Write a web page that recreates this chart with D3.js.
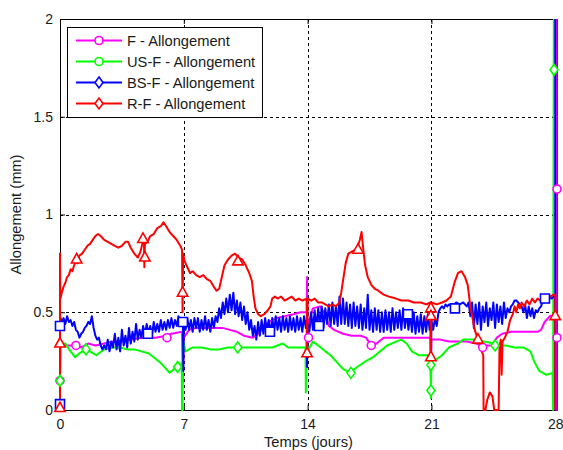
<!DOCTYPE html>
<html><head><meta charset="utf-8">
<script src="https://cdn.jsdelivr.net/npm/d3@7"></script>
<style>body{margin:0;background:#fff;} svg{display:block;font-family:"Liberation Sans",Arial,sans-serif;}</style>
</head><body><svg id="c" width="563" height="450"></svg>
<script>
const seriesNames = ["F - Allongement","US-F - Allongement","BS-F - Allongement","R-F - Allongement"];
const seriesColors = ["#ff00ff","#00ff00","#0000ff","#ff0000"];
const plotMarkers = ["circle","diamond","square","triangle"];
const legendMarkers = ["circle","circle","diamond","diamond"];
const xTicks = [0,7,14,21,28];
const yTicks = [0,0.5,1,1.5,2];
const yTickLabels = ["0","0.5","1","1.5","2"];
const xLabel = "Temps (jours)";
const yLabel = "Allongement (mm)";

// [day, mm]
const fData = [[0,0],[0,0.15],[0.03,0.33],[0.3,0.33],[0.6,0.33],[0.9,0.33],[1.2,0.32],[1.6,0.34],[2.0,0.33],[2.5,0.34],[3.0,0.35],[3.5,0.35],[4.0,0.36],[4.6,0.37],[5.0,0.37],[5.4,0.37],[6.0,0.38],[6.3,0.39],[6.9,0.40],[6.95,0.14],[7.0,0.37],[7.3,0.41],[7.7,0.42],[8.2,0.42],[8.7,0.42],[9.2,0.42],[9.6,0.41],[10.0,0.40],[10.4,0.38],[10.9,0.37],[11.2,0.39],[11.5,0.42],[11.8,0.45],[12.2,0.47],[12.7,0.48],[13.2,0.49],[13.6,0.50],[13.95,0.50],[13.97,0.68],[13.99,0.37],[14.1,0.46],[14.3,0.52],[14.7,0.53],[15.0,0.49],[15.2,0.43],[15.5,0.41],[16.0,0.39],[16.5,0.38],[17.0,0.38],[17.3,0.37],[17.6,0.33],[17.9,0.34],[18.3,0.37],[19.0,0.37],[19.5,0.37],[20.0,0.37],[20.5,0.37],[20.95,0.37],[20.97,0.17],[21.0,0.36],[21.5,0.36],[22.0,0.35],[22.5,0.35],[23.0,0.35],[23.5,0.34],[24.0,0.33],[24.4,0.33],[24.7,0.37],[25.0,0.39],[25.5,0.40],[26.0,0.40],[26.5,0.40],[27.0,0.40],[27.2,0.41],[27.4,0.45],[27.7,0.48],[28.05,0.49],[28.08,0],[28.08,2]];
const fMarks = [[0,0.15],[0.9,0.33],[6.05,0.37],[14.05,0.37],[17.6,0.33],[23.9,0.32],[28.1,0.37],[28.1,1.13]];

const usData = [[0,0],[0,0.15],[0.02,0.34],[0.3,0.34],[0.6,0.30],[0.85,0.27],[1.1,0.29],[1.45,0.31],[1.7,0.30],[2.05,0.28],[2.5,0.31],[3.0,0.32],[3.4,0.32],[3.8,0.31],[4.2,0.31],[4.6,0.30],[5.0,0.29],[5.3,0.27],[5.7,0.24],[6.0,0.21],[6.2,0.19],[6.45,0.21],[6.7,0.22],[6.88,0.24],[6.9,0],[6.93,0],[6.95,0.36],[7.1,0.30],[7.5,0.32],[8.0,0.32],[8.5,0.31],[9.0,0.31],[9.5,0.32],[10.0,0.32],[10.5,0.32],[11.0,0.32],[11.5,0.32],[12.0,0.32],[12.3,0.33],[12.6,0.34],[12.9,0.32],[13.3,0.32],[13.88,0.32],[13.9,0.09],[13.93,0.35],[14.05,0.31],[14.3,0.35],[14.6,0.33],[15.0,0.30],[15.3,0.28],[15.7,0.24],[16.0,0.21],[16.4,0.19],[16.8,0.22],[17.3,0.25],[17.7,0.27],[18.1,0.30],[18.5,0.33],[19.0,0.35],[19.3,0.36],[19.6,0.34],[19.9,0.30],[20.3,0.28],[20.8,0.28],[20.95,0.26],[20.97,0.06],[21.0,0.25],[21.3,0.26],[21.6,0.28],[22.0,0.32],[22.5,0.34],[22.8,0.36],[23.5,0.36],[24.0,0.35],[24.5,0.34],[24.8,0.33],[25.2,0.33],[25.7,0.32],[26.2,0.32],[26.6,0.30],[26.8,0.25],[27.1,0.20],[27.5,0.18],[27.85,0.19],[27.88,0],[27.92,2]];
const usMarks = [[0,0.15],[1.47,0.31],[6.65,0.22],[10.05,0.32],[16.45,0.19],[20.97,0.23],[20.97,0.10],[24.6,0.33],[27.93,1.74]];

const bsData = [[0,0],[0,0.48],[0.1,0.45],[0.2,0.47],[0.3,0.44],[0.4,0.48],[0.5,0.45],[0.6,0.46],[0.7,0.43],[0.8,0.45],[0.9,0.41],[1.0,0.40],[1.1,0.37],[1.2,0.39],[1.3,0.40],[1.4,0.42],[1.5,0.43],[1.6,0.45],[1.7,0.44],[1.8,0.48],[1.9,0.42],[2.0,0.38],[2.1,0.36],[2.2,0.37],[2.3,0.33],[2.4,0.31],[2.5,0.33],[2.6,0.31],[2.7,0.36],[2.8,0.30],[2.9,0.35],[3.0,0.32],[3.1,0.39],[3.2,0.31],[3.3,0.37],[3.4,0.30],[3.5,0.41],[3.6,0.33],[3.7,0.38],[3.8,0.32],[3.9,0.42],[4.0,0.34],[4.1,0.40],[4.2,0.35],[4.3,0.44],[4.4,0.36],[4.5,0.41],[4.6,0.37],[4.7,0.43],[4.8,0.38],[4.9,0.44],[5.0,0.39],[5.1,0.43],[5.2,0.38],[5.3,0.45],[5.4,0.40],[5.5,0.44],[5.6,0.40],[5.7,0.46],[5.8,0.41],[5.9,0.45],[6.0,0.41],[6.1,0.46],[6.2,0.42],[6.3,0.47],[6.4,0.42],[6.5,0.46],[6.6,0.43],[6.7,0.48],[6.8,0.43],[6.9,0.47],[6.95,0.45],[6.97,0.20],[7.0,0.44],[7.1,0.41],[7.2,0.47],[7.3,0.41],[7.4,0.46],[7.5,0.40],[7.6,0.47],[7.7,0.42],[7.8,0.47],[7.9,0.40],[8.0,0.46],[8.1,0.41],[8.2,0.48],[8.3,0.41],[8.4,0.46],[8.5,0.40],[8.6,0.47],[8.7,0.42],[8.8,0.48],[8.9,0.45],[9.0,0.52],[9.1,0.47],[9.2,0.55],[9.3,0.49],[9.4,0.57],[9.5,0.50],[9.6,0.59],[9.7,0.51],[9.8,0.60],[9.9,0.49],[10.0,0.56],[10.1,0.48],[10.2,0.55],[10.3,0.46],[10.4,0.53],[10.5,0.44],[10.6,0.50],[10.7,0.41],[10.8,0.46],[10.9,0.38],[11.0,0.43],[11.1,0.36],[11.2,0.45],[11.3,0.38],[11.4,0.46],[11.5,0.39],[11.6,0.47],[11.7,0.40],[11.8,0.46],[11.9,0.39],[12.0,0.47],[12.1,0.40],[12.2,0.48],[12.3,0.41],[12.4,0.47],[12.5,0.40],[12.6,0.48],[12.7,0.41],[12.8,0.47],[12.9,0.40],[13.0,0.48],[13.1,0.41],[13.2,0.47],[13.3,0.40],[13.4,0.48],[13.5,0.41],[13.6,0.47],[13.7,0.40],[13.8,0.48],[13.9,0.42],[13.95,0.46],[13.97,0.22],[14.0,0.44],[14.1,0.40],[14.2,0.50],[14.3,0.41],[14.4,0.51],[14.5,0.42],[14.6,0.52],[14.7,0.43],[14.8,0.53],[14.9,0.42],[15.0,0.52],[15.1,0.44],[15.2,0.54],[15.3,0.43],[15.4,0.55],[15.5,0.44],[15.6,0.53],[15.7,0.43],[15.8,0.58],[15.9,0.44],[16.0,0.57],[16.1,0.44],[16.2,0.55],[16.3,0.43],[16.4,0.54],[16.5,0.42],[16.6,0.55],[16.7,0.43],[16.8,0.53],[16.9,0.42],[17.0,0.54],[17.1,0.41],[17.2,0.52],[17.3,0.42],[17.4,0.59],[17.5,0.41],[17.6,0.51],[17.7,0.40],[17.8,0.52],[17.9,0.41],[18.0,0.51],[18.1,0.40],[18.2,0.50],[18.3,0.40],[18.4,0.51],[18.5,0.41],[18.6,0.50],[18.7,0.40],[18.8,0.52],[18.9,0.41],[19.0,0.50],[19.1,0.42],[19.2,0.51],[19.3,0.41],[19.4,0.52],[19.5,0.42],[19.6,0.50],[19.7,0.41],[19.8,0.49],[19.9,0.40],[20.0,0.50],[20.1,0.39],[20.2,0.48],[20.3,0.40],[20.4,0.49],[20.5,0.39],[20.6,0.48],[20.7,0.40],[20.8,0.49],[20.9,0.41],[20.95,0.45],[20.97,0.25],[21.0,0.46],[21.1,0.41],[21.2,0.47],[21.3,0.43],[21.4,0.50],[21.5,0.52],[21.6,0.53],[21.7,0.52],[21.8,0.54],[21.9,0.53],[22.0,0.54],[22.2,0.53],[22.4,0.55],[22.6,0.54],[22.8,0.55],[23.0,0.53],[23.1,0.55],[23.2,0.48],[23.3,0.55],[23.4,0.42],[23.5,0.54],[23.6,0.44],[23.7,0.55],[23.8,0.41],[23.9,0.53],[24.0,0.45],[24.1,0.55],[24.2,0.43],[24.3,0.52],[24.4,0.46],[24.5,0.55],[24.6,0.42],[24.7,0.54],[24.8,0.45],[24.9,0.53],[25.0,0.44],[25.1,0.55],[25.2,0.47],[25.3,0.52],[25.4,0.50],[25.5,0.53],[25.6,0.54],[25.7,0.56],[25.8,0.56],[25.9,0.55],[26.0,0.54],[26.1,0.53],[26.2,0.50],[26.3,0.54],[26.4,0.47],[26.5,0.53],[26.6,0.48],[26.7,0.52],[26.8,0.47],[26.9,0.51],[27.0,0.50],[27.1,0.52],[27.2,0.53],[27.3,0.56],[27.4,0.55],[27.5,0.57],[27.6,0.55],[27.7,0.58],[27.8,0.57],[27.9,0.58],[27.98,0.58],[28.0,0],[28.0,2]];
const bsMarks = [[0,0.43],[0,0.03],[4.97,0.39],[6.95,0.45],[11.87,0.40],[14.64,0.43],[19.67,0.49],[22.33,0.52],[27.42,0.57]];

const rData = [[0,0],[0,0.80],[0.02,0.57],[0.1,0.60],[0.2,0.63],[0.3,0.65],[0.4,0.68],[0.5,0.69],[0.6,0.72],[0.7,0.71],[0.8,0.74],[0.9,0.76],[1.0,0.75],[1.1,0.79],[1.25,0.80],[1.4,0.82],[1.55,0.84],[1.7,0.85],[1.85,0.87],[2.0,0.89],[2.15,0.90],[2.3,0.89],[2.5,0.87],[2.7,0.86],[2.9,0.85],[3.1,0.84],[3.3,0.83],[3.5,0.84],[3.7,0.86],[3.85,0.86],[4.0,0.83],[4.2,0.80],[4.4,0.78],[4.55,0.81],[4.68,0.86],[4.75,0.86],[4.77,0.73],[4.8,0.85],[4.95,0.86],[5.1,0.89],[5.3,0.90],[5.5,0.93],[5.7,0.94],[5.85,0.96],[6.0,0.94],[6.2,0.91],[6.4,0.89],[6.6,0.87],[6.8,0.84],[6.9,0.82],[6.93,0.50],[6.96,0.80],[7.05,0.76],[7.2,0.73],[7.35,0.70],[7.5,0.71],[7.7,0.69],[7.9,0.68],[8.1,0.69],[8.3,0.67],[8.5,0.66],[8.7,0.63],[8.85,0.61],[9.0,0.62],[9.15,0.68],[9.3,0.74],[9.5,0.77],[9.7,0.79],[9.9,0.80],[10.1,0.78],[10.3,0.77],[10.5,0.74],[10.7,0.70],[10.85,0.66],[10.95,0.58],[11.05,0.52],[11.2,0.49],[11.35,0.48],[11.55,0.49],[11.75,0.51],[11.9,0.53],[12.0,0.57],[12.15,0.58],[12.3,0.57],[12.5,0.58],[12.7,0.56],[12.9,0.57],[13.1,0.58],[13.3,0.56],[13.5,0.57],[13.7,0.56],[13.95,0.57],[13.97,0.28],[14.0,0.57],[14.2,0.56],[14.4,0.57],[14.6,0.55],[14.8,0.55],[15.0,0.54],[15.2,0.53],[15.4,0.54],[15.6,0.53],[15.8,0.55],[15.9,0.60],[16.0,0.66],[16.15,0.75],[16.3,0.80],[16.5,0.81],[16.7,0.82],[16.85,0.84],[16.95,0.87],[17.05,0.91],[17.15,0.82],[17.25,0.74],[17.4,0.68],[17.6,0.64],[17.8,0.62],[18.0,0.61],[18.3,0.59],[18.6,0.58],[19.0,0.57],[19.3,0.56],[19.7,0.56],[20.0,0.55],[20.4,0.55],[20.7,0.54],[20.95,0.55],[20.97,0.26],[21.0,0.55],[21.3,0.54],[21.6,0.55],[21.85,0.56],[22.1,0.58],[22.3,0.65],[22.5,0.70],[22.7,0.71],[22.9,0.68],[23.05,0.64],[23.2,0.53],[23.45,0.41],[23.63,0.36],[23.8,0.31],[23.93,0.28],[23.95,0],[24.05,0],[24.15,0.05],[24.3,0.09],[24.45,0.07],[24.55,0],[24.8,0],[24.85,0.32],[24.92,0.36],[24.97,0.18],[25.02,0.35],[25.15,0.37],[25.3,0.40],[25.45,0.46],[25.6,0.49],[25.7,0.53],[25.8,0.50],[25.9,0.54],[26.0,0.52],[26.1,0.55],[26.25,0.53],[26.4,0.56],[26.55,0.54],[26.7,0.57],[26.85,0.55],[27.0,0.57],[27.15,0.56],[27.3,0.58],[27.5,0.57],[27.7,0.58],[27.9,0.59],[28.0,0.59],[28.0,0]];
const rMarks = [[0,0.34],[0,0.01],[0.94,0.77],[4.69,0.875],[4.8,0.78],[6.93,0.60],[10.06,0.76],[13.97,0.29],[16.85,0.82],[20.97,0.52],[20.97,0.48],[20.97,0.27],[23.63,0.36],[28.0,0.48]];

const allData = [fData, usData, bsData, rData];
const allMarks = [fMarks, usMarks, bsMarks, rMarks];

const svg = d3.select("#c");
const L = 60, R = 557, T = 19, B = 410;
const x = d3.scaleLinear().domain([0, 28.1]).range([L, R]);
const y = d3.scaleLinear().domain([0, 2]).range([B, T]);

// grid
const grid = svg.append("g").attr("stroke", "#000").attr("stroke-width", 1).attr("stroke-dasharray", "3,3");
xTicks.filter(t => t > 0 && t < 28).forEach(t => grid.append("line").attr("x1", Math.round(x(t)) + 0.5).attr("x2", Math.round(x(t)) + 0.5).attr("y1", T).attr("y2", B));
yTicks.filter(t => t > 0 && t < 2).forEach(t => grid.append("line").attr("y1", Math.round(y(t)) + 0.5).attr("y2", Math.round(y(t)) + 0.5).attr("x1", L).attr("x2", R));

// axes
const axB = svg.append("g").attr("transform", `translate(0,${B})`).call(d3.axisBottom(x).tickValues(xTicks).tickSize(-5).tickSizeOuter(0).tickPadding(9).tickFormat(d3.format("d")));
const axL = svg.append("g").attr("transform", `translate(${L},0)`).call(d3.axisLeft(y).tickValues(yTicks).tickSize(-5).tickSizeOuter(0).tickPadding(7).tickFormat((d, i) => yTickLabels[i]));
const axT = svg.append("g").attr("transform", `translate(0,${T})`).call(d3.axisTop(x).tickValues(xTicks).tickSize(-5).tickSizeOuter(0).tickFormat(""));
const axR = svg.append("g").attr("transform", `translate(${R},0)`).call(d3.axisRight(y).tickValues(yTicks).tickSize(-5).tickSizeOuter(0).tickFormat(""));
[axB, axL, axT, axR].forEach(a => {
  a.selectAll("text").attr("font-size", 14).attr("fill", "#1a1a1a").attr("font-family", '"Liberation Sans",Arial,sans-serif');
  a.selectAll("path,line").attr("stroke", "#000");
});

// clip
svg.append("clipPath").attr("id", "clip").append("rect").attr("x", L - 4).attr("y", T).attr("width", R - L + 8).attr("height", B - T + 2);

const line = d3.line().x(d => x(d[0])).y(d => y(d[1]));
const lines = svg.append("g").attr("clip-path", "url(#clip)");
allData.forEach((data, i) => {
  lines.append("path").datum(data).attr("d", line).attr("fill", "none")
    .attr("stroke", seriesColors[i]).attr("stroke-width", 2).attr("stroke-linejoin", "round");
});

function markerPath(type) {
  if (type === "circle") return d3.symbol(d3.symbolCircle, 50)();
  if (type === "square") return "M-4.5,-4.5L4.5,-4.5L4.5,4.5L-4.5,4.5Z";
  if (type === "triangle") return "M0,-6L5.2,3.5L-5.2,3.5Z";
  return "M0,-5.5L4,0L0,5.5L-4,0Z";
}
const marks = svg.append("g");
allMarks.forEach((m, i) => {
  marks.selectAll(null).data(m).enter().append("path")
    .attr("d", markerPath(plotMarkers[i]))
    .attr("transform", d => `translate(${x(d[0])},${y(d[1])})`)
    .attr("fill", "#fff").attr("stroke", seriesColors[i]).attr("stroke-width", 1.6);
});

// axis labels
svg.append("text").attr("x", (L + R) / 2).attr("y", 447).attr("text-anchor", "middle")
  .attr("font-size", 14.7).attr("fill", "#1a1a1a").text(xLabel);
svg.append("text").attr("transform", `translate(21,${(T + B) / 2}) rotate(-90)`).attr("text-anchor", "middle")
  .attr("font-size", 14.7).attr("fill", "#1a1a1a").text(yLabel);

// legend
const lg = svg.append("g");
lg.append("rect").attr("x", 67.5).attr("y", 27.5).attr("width", 195).attr("height", 90).attr("fill", "#fff").attr("stroke", "#000").attr("stroke-width", 1);
const rowY = [40.5, 61.5, 82.5, 103.5];
seriesNames.forEach((name, i) => {
  lg.append("line").attr("x1", 76).attr("x2", 122).attr("y1", rowY[i]).attr("y2", rowY[i]).attr("stroke", seriesColors[i]).attr("stroke-width", 2);
  lg.append("path").attr("d", markerPath(legendMarkers[i])).attr("transform", `translate(99,${rowY[i]})`).attr("fill", "#fff").attr("stroke", seriesColors[i]).attr("stroke-width", 1.6);
  lg.append("text").attr("x", 127).attr("y", rowY[i] + 5).attr("font-size", 14.7).attr("fill", "#1a1a1a").text(name);
});
</script>
</body></html>
